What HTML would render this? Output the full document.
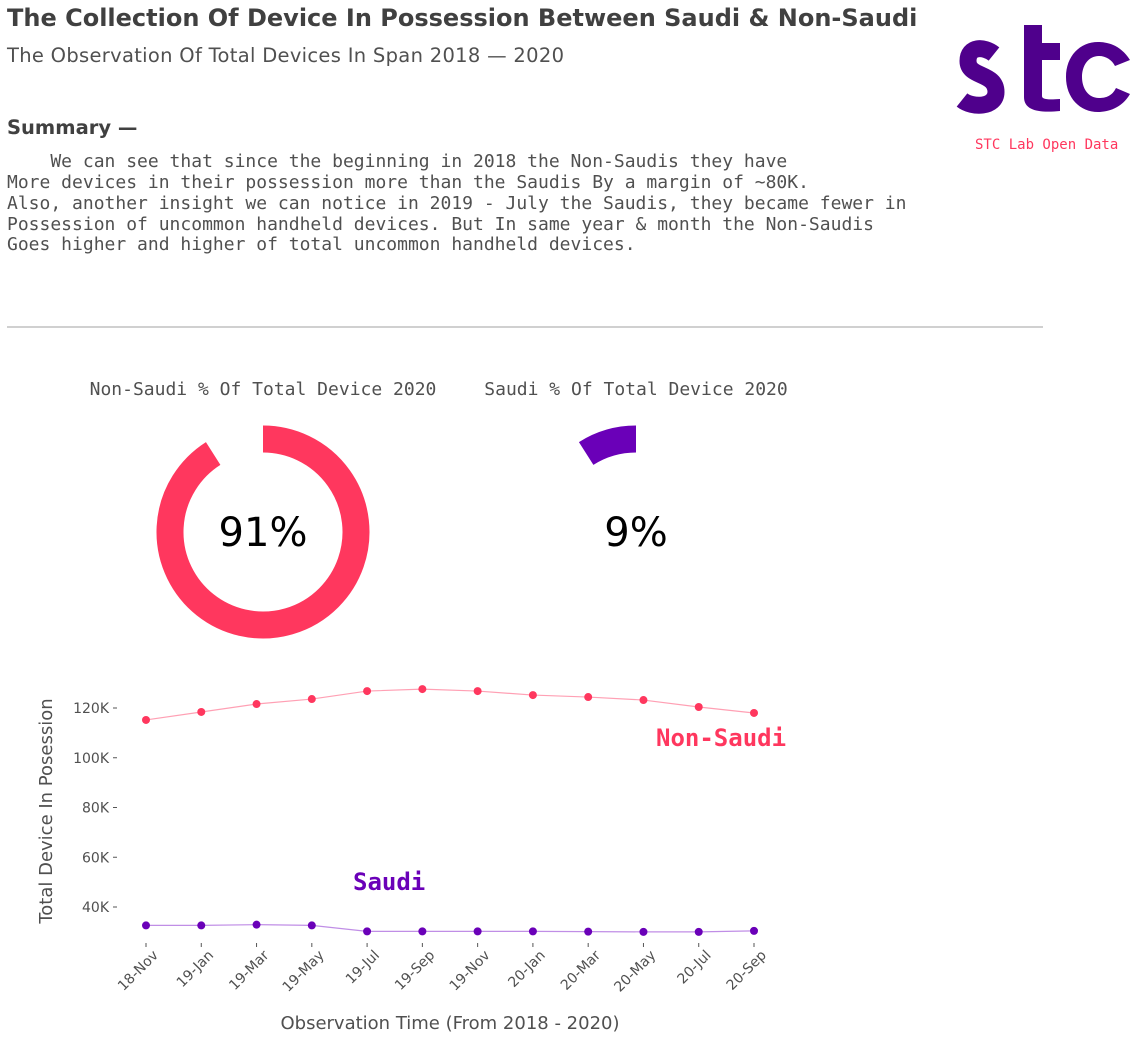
<!DOCTYPE html>
<html><head><meta charset="utf-8"><style>
body{margin:0;background:#fff;width:1137px;height:1039px;overflow:hidden}
svg{display:block}
.mono{font-family:"DejaVu Sans Mono","Liberation Mono",monospace}
.sans{font-family:"DejaVu Sans","Liberation Sans",sans-serif}
.pre text{white-space:pre}
</style></head><body>
<svg width="1137" height="1039" xmlns="http://www.w3.org/2000/svg">
<text class="sans" x="7" y="26" font-size="24" font-weight="bold" fill="#404040">The Collection Of Device In Possession Between Saudi &amp; Non-Saudi</text>
<text class="sans" x="7" y="62" font-size="19.5" fill="#505050" textLength="557">The Observation Of Total Devices In Span 2018 — 2020</text>
<text class="sans" x="7" y="134" font-size="19.5" font-weight="bold" fill="#404040">Summary —</text>
<g class="mono pre" font-size="18" fill="#505050">
<text x="7" y="167" style="white-space:pre">    We can see that since the beginning in 2018 the Non-Saudis they have</text>
<text x="7" y="188">More devices in their possession more than the Saudis By a margin of ~80K.</text>
<text x="7" y="209">Also, another insight we can notice in 2019 - July the Saudis, they became fewer in</text>
<text x="7" y="230">Possession of uncommon handheld devices. But In same year &amp; month the Non-Saudis</text>
<text x="7" y="250">Goes higher and higher of total uncommon handheld devices.</text>
</g>
<g fill="#4f008c">
<path d="M994 54 C984 46 968 46 968 61 C968 78 996 72 996 92 C996 108 972 108 962 100" fill="none" stroke="#4f008c" stroke-width="17"/>
<rect x="1024" y="25" width="18" height="18"/>
<path d="M1042 43 h18 v17 h-18 v36 c0 3 4 4 18 3 v12 c-20 2 -36 0 -36 -14 v-54 h18z"/>
<path d="M1130 60 C1120 44 1106 42 1098 42 C1080 42 1066 56 1066 77 C1066 98 1080 112 1098 112 C1108 112 1122 108 1130 94 L1116 88 C1112 96 1106 98 1099 98 C1088 98 1082 88 1082 77 C1082 66 1088 56 1099 56 C1106 56 1112 60 1115 66 Z"/>
</g>
<text class="mono" x="975" y="149" font-size="14" fill="#ff375e">STC Lab Open Data</text>
<line x1="7" y1="327" x2="1043" y2="327" stroke="#d0d0d0" stroke-width="2"/>
<text class="mono" x="263" y="395" text-anchor="middle" font-size="18" fill="#505050">Non-Saudi % Of Total Device 2020</text>
<text class="mono" x="636" y="395" text-anchor="middle" font-size="18" fill="#505050">Saudi % Of Total Device 2020</text>
<g id="donuts"></g>
<g id="chart"></g>
</svg>
<script>
const NS="http://www.w3.org/2000/svg";
const donutLabels=["Non-Saudi","Saudi"];
const donutPct=[91,9];
const categories=["18-Nov","19-Jan","19-Mar","19-May","19-Jul","19-Sep","19-Nov","20-Jan","20-Mar","20-May","20-Jul","20-Sep"];
const nonSaudi=[115.2,118.4,121.6,123.6,126.8,127.6,126.8,125.2,124.4,123.2,120.4,118.0];
const saudi=[32.6,32.6,32.9,32.6,30.2,30.2,30.2,30.2,30.1,30.0,30.0,30.4];
const yTicks=[40,60,80,100,120];
function mk(t,a,p){const e=document.createElementNS(NS,t);for(const k in a)e.setAttribute(k,a[k]);(p||document.getElementById('chart')).appendChild(e);return e;}
const dg=document.getElementById('donuts');
const centers=[263,636],dcolors=["#ff375e","#6a00b8"],dirs=[1,-1];
donutPct.forEach((p,i)=>{
 const cx=centers[i],cy=532,r=93,ang=p/100*2*Math.PI*dirs[i];
 const x=cx+r*Math.sin(ang),y=cy-r*Math.cos(ang);
 const large=p>50?1:0,sweep=dirs[i]>0?1:0;
 const path=mk('path',{d:`M${cx} ${cy-r} A${r} ${r} 0 ${large} ${sweep} ${x} ${y}`,fill:'none',stroke:dcolors[i],'stroke-width':27},dg);
 
 
 const t=mk('text',{x:cx,y:cy+14,'text-anchor':'middle','font-size':40,fill:'#000','font-family':'DejaVu Sans, sans-serif'},dg);
 t.textContent=p+'%';
 
 
});
const xs=i=>146+i*(754-146)/(categories.length-1);
const ys=v=>708+(120-v)*2.4875;
yTicks.forEach(v=>{
 const l=mk('line',{x1:113,x2:117,y1:ys(v),y2:ys(v),stroke:'#555'});
 
 
 const t=mk('text',{x:109,y:ys(v)+5,'text-anchor':'end','font-size':14,fill:'#505050','font-family':'DejaVu Sans, sans-serif'});
 t.textContent=v+'K';
 
 
});
categories.forEach((c,i)=>{
 const l=mk('line',{x1:xs(i),x2:xs(i),y1:943,y2:947,stroke:'#555'});
 
 
 const ax=xs(i)+13,ay=956;
 const t=mk('text',{x:ax,y:ay,'text-anchor':'end','font-size':14,fill:'#505050','font-family':'DejaVu Sans, sans-serif',transform:`rotate(-45 ${ax} ${ay})`});
 t.textContent=c;
 
 
});
[[nonSaudi,'#ff375e','#ffa0b4','non-saudi'],[saudi,'#6a00b8','#c08ee6','saudi']].forEach(([d,c,lc,n])=>{
 const pl=mk('polyline',{points:d.map((v,i)=>xs(i)+','+ys(v)).join(' '),fill:'none',stroke:lc,'stroke-width':1.2});
 
 
 d.forEach((v,i)=>{
  const p=mk('circle',{cx:xs(i),cy:ys(v),r:4,fill:c});
  
  
 });
});
let t=mk('text',{x:656,y:746,'font-size':24,'font-weight':'bold',fill:'#ff375e','font-family':'DejaVu Sans Mono, monospace'});
t.textContent='Non-Saudi';


t=mk('text',{x:353,y:890,'font-size':24,'font-weight':'bold',fill:'#6a00b8','font-family':'DejaVu Sans Mono, monospace'});
t.textContent='Saudi';


t=mk('text',{x:52,y:811,'text-anchor':'middle','font-size':18,fill:'#505050','font-family':'DejaVu Sans, sans-serif',transform:'rotate(-90 52 811)'});
t.textContent='Total Device In Posession';


t=mk('text',{x:450,y:1029,'text-anchor':'middle','font-size':18,fill:'#505050','font-family':'DejaVu Sans, sans-serif'});
t.textContent='Observation Time (From 2018 - 2020)';


</script>
</body></html>
